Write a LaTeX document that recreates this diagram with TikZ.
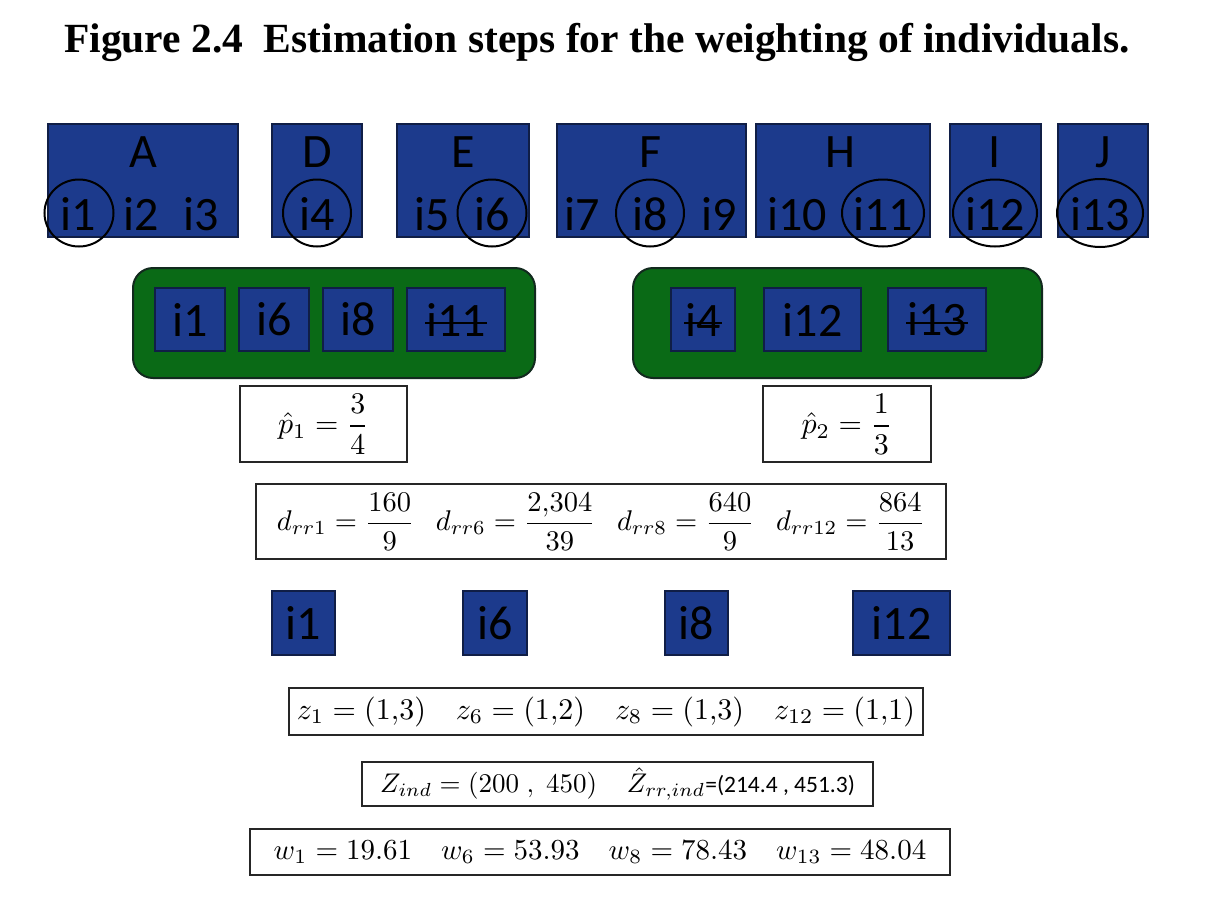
\documentclass[tikz,border=0pt]{standalone}
\usepackage{amsmath}
\usepackage{graphicx}
\usepackage{fontspec}
\usetikzlibrary{shapes.geometric,calc}
\newfontfamily\cb{Carlito}
\newfontfamily\titlefont{Liberation Serif}
\definecolor{boxblue}{RGB}{28,58,140}
\definecolor{bordblue}{RGB}{16,30,70}
\definecolor{grnfill}{RGB}{10,106,22}
\definecolor{grnborder}{RGB}{18,42,30}
\newcommand{\mth}[2][3]{\scalebox{#1}{#2}}
\begin{document}
\begin{tikzpicture}[x=1pt,y=-1pt,
  bluebox/.style={draw=bordblue, fill=boxblue, line width=1.3pt, inner sep=0pt, text=black, font=\cb\fontsize{48}{58}\selectfont},
  grp/.style={draw=grnborder, fill=grnfill, line width=2pt, rounded corners=20pt, inner sep=0pt},
  itxt/.style={font=\cb\fontsize{48}{58}\selectfont, text=black, inner sep=0pt, anchor=base},
  ring/.style={draw=black, line width=2pt, ellipse, inner sep=0pt},
  fbox/.style={draw=black!85, fill=white, line width=1.3pt, inner sep=0pt},
  strike/.style={draw=black, line width=2pt}]
\fill[white] (0,0) rectangle (1209,897);
\useasboundingbox (0,0) rectangle (1209,897);

% title
\node[anchor=base west, inner sep=0pt, font=\titlefont\bfseries\fontsize{41.5}{50}\selectfont] (title) at (64,52)
  {Figure 2.4\hspace{0.5em}Estimation steps for the weighting of individuals.};

% top row of boxes
\node[bluebox, minimum width=190pt, minimum height=113pt] (A) at (143,180.5) {};
\node[bluebox, minimum width=90pt, minimum height=113pt] (D) at (317,180.5) {};
\node[bluebox, minimum width=132pt, minimum height=113pt] (E) at (463,180.5) {};
\node[bluebox, minimum width=189pt, minimum height=113pt] (F) at (651.5,180.5) {};
\node[bluebox, minimum width=174pt, minimum height=113pt] (H) at (843,180.5) {};
\node[bluebox, minimum width=91pt, minimum height=113pt] (I) at (995.5,180.5) {};
\node[bluebox, minimum width=90pt, minimum height=113pt] (J) at (1103,180.5) {};

\node[itxt] (lA) at (143,167) {A};
\node[itxt] (lD) at (317,167) {D};
\node[itxt] (lE) at (463,167) {E};
\node[itxt] (lF) at (651,167) {F};
\node[itxt] (lH) at (840,167) {H};
\node[itxt] (lI) at (995,167) {I};
\node[itxt] (lJ) at (1103,167) {J};

\node[itxt] (t1) at (78,230) {i1};
\node[itxt] (t2) at (141,230) {i2};
\node[itxt] (t3) at (201,230) {i3};
\node[itxt] (t4) at (317,230) {i4};
\node[itxt] (t5) at (432,230) {i5};
\node[itxt] (t6) at (492,230) {i6};
\node[itxt] (t7) at (582,230) {i7};
\node[itxt] (t8) at (650,230) {i8};
\node[itxt] (t9) at (719,230) {i9};
\node[itxt] (t10) at (797,230) {i10};
\node[itxt] (t11) at (883,230) {i11};
\node[itxt] (t12) at (995,230) {i12};
\node[itxt] (t13) at (1100,230) {i13};

\node[ring, minimum width=69pt, minimum height=67pt] (c1) at (79,213) {};
\node[ring, minimum width=68pt, minimum height=67pt] (c4) at (317,213) {};
\node[ring, minimum width=69pt, minimum height=67pt] (c6) at (492,213) {};
\node[ring, minimum width=68pt, minimum height=67pt] (c8) at (650,213) {};
\node[ring, minimum width=82pt, minimum height=67pt] (c11) at (883,213) {};
\node[ring, minimum width=84pt, minimum height=67pt] (c12) at (995,213) {};
\node[ring, minimum width=86pt, minimum height=68pt] (c13) at (1100,213) {};

% green groups
\node[grp, minimum width=402pt, minimum height=110pt] (G1) at (334,323) {};
\node[grp, minimum width=409pt, minimum height=110pt] (G2) at (837.5,323) {};

\node[bluebox, minimum width=70pt, minimum height=63pt] (g1) at (190,319.5) {i1};
\node[bluebox, minimum width=70pt, minimum height=63pt] (g6) at (274,319.5) {i6};
\node[bluebox, minimum width=70pt, minimum height=63pt] (g8) at (358,319.5) {i8};
\node[bluebox, minimum width=98pt, minimum height=63pt] (g11) at (456,319.5) {i11};
\node[bluebox, minimum width=64pt, minimum height=63pt] (g4) at (703,319.5) {i4};
\node[bluebox, minimum width=97pt, minimum height=63pt] (g12) at (812.5,319.5) {i12};
\node[bluebox, minimum width=98pt, minimum height=63pt] (g13) at (937,319.5) {i13};

\draw[strike] ($(g11.center)+(-31,3)$) -- ($(g11.center)+(31,3)$);
\draw[strike] ($(g4.center)+(-19,3)$) -- ($(g4.center)+(19,3)$);
\draw[strike] ($(g13.center)+(-31,3)$) -- ($(g13.center)+(31,3)$);

% probabilities
\node[fbox, minimum width=167pt, minimum height=76pt] (p1) at (323.5,424) {\mth{$\hat{p}_1=\dfrac{3}{4}$}};
\node[fbox, minimum width=168pt, minimum height=76pt] (p2) at (847,424) {\mth{$\hat{p}_2=\dfrac{1}{3}$}};

% design weights
\node[fbox, minimum width=690pt, minimum height=75pt] (d) at (601,521.5)
  {\mth[2.85]{$d_{rr1}=\dfrac{160}{9}\hspace{0.75em} d_{rr6}=\dfrac{2{,}304}{39}\hspace{0.75em} d_{rr8}=\dfrac{640}{9}\hspace{0.75em} d_{rr12}=\dfrac{864}{13}$}};

% selected individuals
\node[bluebox, minimum width=63pt, minimum height=64pt] (s1) at (303.5,623) {i1};
\node[bluebox, minimum width=64pt, minimum height=64pt] (s6) at (495,623) {i6};
\node[bluebox, minimum width=63pt, minimum height=64pt] (s8) at (696.5,623) {i8};
\node[bluebox, minimum width=97pt, minimum height=64pt] (s12) at (901.5,623) {i12};

% auxiliary variables
\node[fbox, minimum width=634pt, minimum height=47pt] (z) at (606,711.5)
  {\mth{$z_1=(1{,}3)\quad z_6=(1{,}2)\quad z_8=(1{,}3)\quad z_{12}=(1{,}1)$}};
\node[fbox, minimum width=511pt, minimum height=44pt] (Z) at (617.5,784)
  {\mth[2.7]{$Z_{ind}=(200\;,\;450)$\hspace{1.1em}$\hat{Z}_{rr,ind}${\cb\fontsize{8.7}{10}\selectfont=(214.4 , 451.3)}}};
\node[fbox, minimum width=700pt, minimum height=46pt] (w) at (600,852)
  {\mth[2.9]{$w_1=19.61\quad w_6=53.93\quad w_8=78.43\quad w_{13}=48.04$}};
\end{tikzpicture}
\end{document}
